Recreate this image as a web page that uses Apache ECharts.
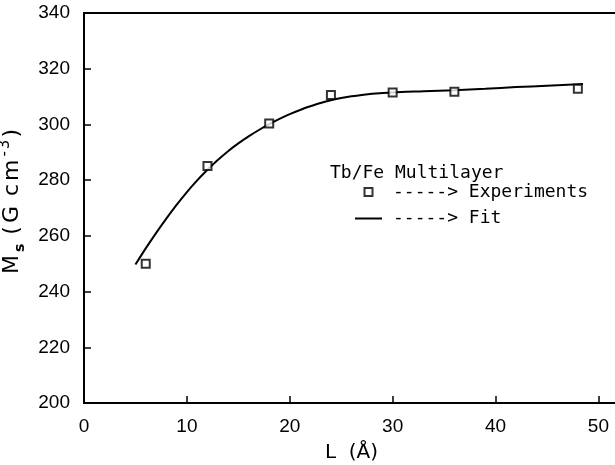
<!DOCTYPE html>
<html>
<head>
<meta charset="utf-8">
<script src="https://cdn.jsdelivr.net/npm/echarts@6/dist/echarts.min.js"></script>
<style>html,body{margin:0;padding:0;background:#fff}#c{width:615px;height:465px}</style>
</head>
<body>
<div id="c"></div>
<script>
// Experimental points
var expL = [6, 12, 18, 24, 30, 36, 48];
var expMs = [250, 285.1, 300.3, 310.6, 311.5, 311.7, 312.8];
// Fit curve
var fitL = [5, 6, 7, 8, 9, 10, 11, 12, 13, 14, 15, 16, 17, 18, 19, 20, 21, 22, 23, 24, 25, 26, 27, 28, 30, 33, 36, 39, 42, 45, 48.5];
var fitMs = [249.7, 255.5, 261.0, 266.2, 271.1, 275.7, 279.9, 283.7, 287.2, 290.4, 293.2, 295.7, 298.0, 300.1, 302.0, 303.7, 305.2, 306.5, 307.7, 308.7, 309.5, 310.1, 310.6, 311.0, 311.5, 311.9, 312.3, 312.8, 313.4, 313.9, 314.5];
// Axis ticks
var xTicks = [0, 10, 20, 30, 40, 50];
var yTicks = [200, 220, 240, 260, 280, 300, 320, 340];

var tickFont = "'Liberation Sans', sans-serif";
var nameFont = "'DejaVu Sans', sans-serif";
var monoFont = "'DejaVu Sans Mono', 'Liberation Mono', monospace";

var chart = echarts.init(document.getElementById('c'), null, {renderer: 'canvas'});
chart.setOption({
  animation: false,
  backgroundColor: '#fff',
  title: {
    text: 'Tb/Fe Multilayer',
    left: 330, top: 164, padding: 0,
    textStyle: {fontFamily: monoFont, fontSize: 18, fontWeight: 'normal', color: '#000'}
  },
  legend: {
    orient: 'vertical',
    left: 355, top: 183,
    padding: 0,
    itemWidth: 27, itemHeight: 8, itemGap: 8.5,
    data: [
      {name: 'Experiments', icon: 'path://M0,0L10,0L10,10L0,10Z'},
      {name: 'Fit', icon: 'path://M0,0L27,0L27,2L0,2Z', itemStyle: {color: '#000', borderWidth: 0}}
    ],
    formatter: function (n) { return '-----> ' + n; },
    textStyle: {fontFamily: monoFont, fontSize: 18, color: '#000', lineHeight: 18, padding: [0, 0, 0, 6]}
  },
  grid: {
    left: 84, top: 13, right: -4, bottom: 62,
    outerBoundsMode: 'none', containLabel: false,
    show: true, borderColor: '#000', borderWidth: 2, backgroundColor: 'transparent'
  },
  xAxis: {
    type: 'value', min: 0, max: 52, interval: 10,
    name: 'L  (Å)', nameLocation: 'middle', nameGap: 40,
    nameTextStyle: {fontFamily: nameFont, fontSize: 20, color: '#000'},
    axisLine: {lineStyle: {color: '#000', width: 2}},
    axisTick: {inside: true, length: 7, lineStyle: {color: '#000', width: 1.5},
      customValues: xTicks},
    axisLabel: {color: '#000', fontFamily: tickFont, fontSize: 19, margin: 14,
      customValues: xTicks},
    splitLine: {show: false}
  },
  yAxis: {
    type: 'value', min: 200, max: 340, interval: 20,
    name: '{a|M}{s|s}{g| }{a|(}{a|G}{g| }{a|c}{a|m}{p|-}{p|3}{a|)}', nameLocation: 'middle', nameGap: 56, nameRotate: 90,
    nameTextStyle: {
      color: '#000', padding: [0, 0, 0, 16],
      rich: {
        a: {fontFamily: nameFont, fontSize: 22, color: '#000', lineHeight: 30, padding: [0, 3, 0, 0]},
        g: {fontFamily: nameFont, fontSize: 22, color: '#000', lineHeight: 30},
        s: {fontFamily: nameFont, fontSize: 14, fontWeight: 'bold', color: '#000', verticalAlign: 'bottom', lineHeight: 30, padding: [0, 2, 0, 0]},
        p: {fontFamily: nameFont, fontSize: 15, color: '#000', verticalAlign: 'top', lineHeight: 30, padding: [0, 2, 0, 0]}
      }
    },
    axisLine: {lineStyle: {color: '#000', width: 2}},
    axisTick: {inside: true, length: 7, lineStyle: {color: '#000', width: 1.5}, customValues: yTicks},
    axisLabel: {color: '#000', fontFamily: tickFont, fontSize: 19, margin: 14, customValues: yTicks},
    splitLine: {show: false}
  },
  series: [
    {
      name: 'Experiments', type: 'scatter',
      data: expL.map(function (x, i) { return [x, expMs[i]]; }),
      symbol: 'rect', symbolSize: 8,
      itemStyle: {color: '#fff', borderColor: '#000', borderWidth: 2},
      z: 3
    },
    {
      name: 'Fit', type: 'line',
      data: fitL.map(function (x, i) { return [x, fitMs[i]]; }),
      smooth: 0.3, showSymbol: false, symbol: 'none',
      lineStyle: {color: '#000', width: 2},
      itemStyle: {color: '#000'},
      z: 2
    }
  ]
});
</script>
</body>
</html>
